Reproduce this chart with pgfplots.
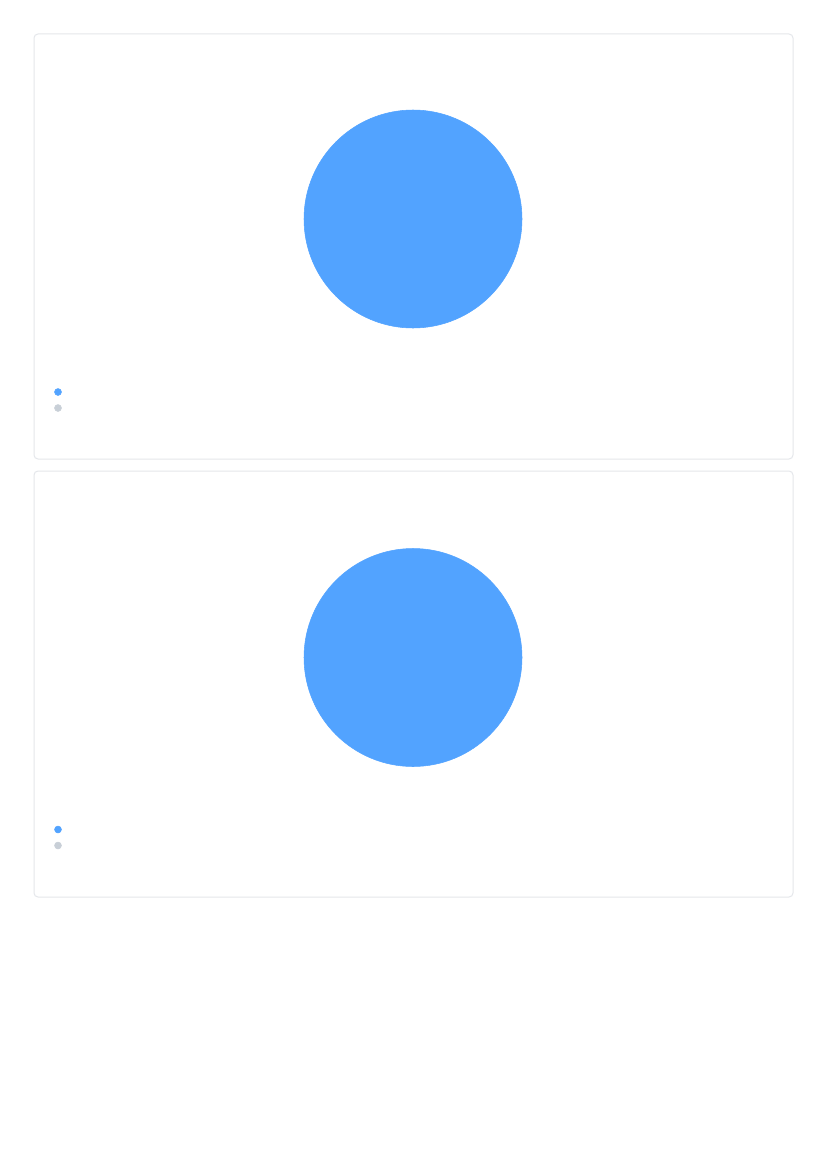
\documentclass[border=0pt]{standalone}
\usepackage{pgfplots}
\pgfplotsset{compat=1.18}
\definecolor{pieblue}{RGB}{82,163,255}
\definecolor{piegrey}{RGB}{200,207,215}
\definecolor{cardline}{RGB}{229,231,235}

\pgfplotsset{
  cardpie/.style={
    scale only axis, width=569.25pt, height=318.75pt,
    hide axis, clip=false, y dir=reverse,
    xmin=34, xmax=793,
    anchor=center,
    legend cell align=left,
    legend style={draw=none, fill=none, inner sep=0pt, outer sep=0pt,
      row sep=0pt, anchor=west,
      nodes={inner sep=0pt, minimum height=12pt, text depth=0pt}},
    legend image code/.code={\path[draw=none, fill=none] (-3pt,-6pt) rectangle (3pt,6pt);
      \fill (0pt,0pt) circle (2.6pt);},
  },
  % the grey share is 0, so its slice draws nothing
  zeroslice/.style={only marks, mark=*, mark size=0pt,
    mark options={draw=none, fill=none}, color=piegrey},
}

\begin{document}
\begin{tikzpicture}[x=0.75pt, y=-0.75pt]
\fill[white] (0,0) rectangle (826,1169);
\draw[cardline, line width=0.75pt, rounded corners=3pt] (34,34) rectangle (793,459);
\draw[cardline, line width=0.75pt, rounded corners=3pt] (34,471) rectangle (793,897);

% card 1
\begin{axis}[cardpie, at={(310.125pt,-184.875pt)}, ymin=34, ymax=459,
  legend style={at={(axis cs:54,400)}}]
\addplot[only marks, mark=*, color=pieblue, mark size=81.75pt] coordinates {(413,219)};
\addlegendentry{}
\addplot[zeroslice] coordinates {(413,219)};
\addlegendentry{}
\end{axis}

% card 2
\begin{axis}[cardpie, at={(310.125pt,-513pt)}, ymin=471, ymax=896,
  legend style={at={(axis cs:54,837)}}]
\addplot[only marks, mark=*, color=pieblue, mark size=81.75pt] coordinates {(413,657)};
\addlegendentry{}
\addplot[zeroslice] coordinates {(413,657)};
\addlegendentry{}
\end{axis}
\end{tikzpicture}
\end{document}
